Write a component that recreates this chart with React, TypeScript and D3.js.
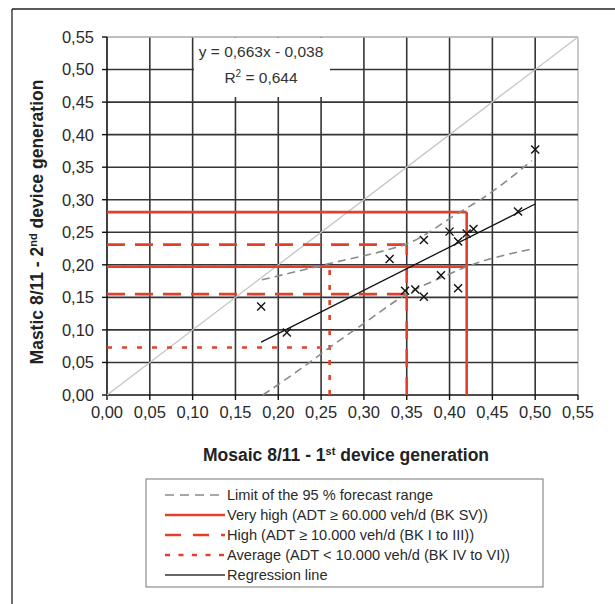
import React from "react";
import * as d3 from "d3";

// Axis ticks (both axes share the same range)
const tickValues = [0, 0.05, 0.1, 0.15, 0.2, 0.25, 0.3, 0.35, 0.4, 0.45, 0.5, 0.55];

// Measured pairs: Mosaic (1st generation) vs Mastic (2nd generation)
const mosaic = [0.18, 0.21, 0.33, 0.348, 0.36, 0.37, 0.37, 0.39, 0.4, 0.41, 0.41, 0.42, 0.428, 0.48, 0.5];
const mastic = [0.136, 0.096, 0.209, 0.16, 0.162, 0.151, 0.238, 0.184, 0.251, 0.164, 0.236, 0.248, 0.255, 0.282, 0.377];

// Regression y = 0,663x - 0,038 over the measured range
const regSlope = 0.663;
const regIntercept = -0.038;
const regRange = [0.18, 0.5];

// 95 % forecast range limits
const upperX = [0.181, 0.26, 0.33, 0.35, 0.412, 0.4355, 0.496];
const upperY = [0.177, 0.202, 0.224, 0.232, 0.281, 0.2995, 0.36];
const lowerX = [0.182, 0.226, 0.26, 0.3, 0.35, 0.4, 0.42, 0.495];
const lowerY = [0.0, 0.04, 0.073, 0.11, 0.155, 0.186, 0.197, 0.224];

// Traffic classes: Mosaic threshold and the matching Mastic band
const classNames = ["average", "high", "veryHigh"];
const classX = [0.26, 0.35, 0.42];
const classUpper = [0.197, 0.231, 0.281];
const classLower = [0.073, 0.155, 0.197];

const legendLabels = [
  "Limit of the 95 % forecast range",
  "Very high (ADT \u2265 60.000 veh/d (BK SV))",
  "High (ADT \u2265 10.000 veh/d (BK I to III))",
  "Average (ADT < 10.000 veh/d (BK IV to VI))",
  "Regression line",
];

const RED = "#e2402a";
const GRID = "#353535";
const FONT = "'Liberation Sans', Arial, Helvetica, sans-serif";

const classStyle: Record<string, { dash?: string; width: number }> = {
  veryHigh: { width: 2.6 },
  high: { dash: "18 10", width: 2.6 },
  average: { dash: "5 10", width: 2.6 },
};

const fmt = (v: number) => v.toFixed(2).replace(".", ",");

export default function App() {
  const x = d3.scaleLinear().domain([0, 0.55]).range([107, 578]);
  const y = d3.scaleLinear().domain([0, 0.55]).range([395, 37]);

  const curve = d3
    .line<[number, number]>()
    .x((d) => x(d[0]))
    .y((d) => y(d[1]))
    .curve(d3.curveMonotoneX);

  const upperPts = upperX.map((v, i) => [v, upperY[i]] as [number, number]);
  const lowerPts = lowerX.map((v, i) => [v, lowerY[i]] as [number, number]);
  const regPts = regRange.map((v) => [v, regSlope * v + regIntercept] as [number, number]);

  const legendTop = 495;
  const legendStep = 20;

  return (
    <svg
      width={615}
      height={604}
      style={{ position: "absolute", left: 0, top: 0, background: "#fff" }}
      fontFamily={FONT}
    >
      <rect x={0} y={0} width={615} height={604} fill="#fff" />
      {/* outer frame */}
      <line x1={12} y1={9} x2={615} y2={9} stroke="#222" strokeWidth={1.3} />
      <line x1={12} y1={9} x2={12} y2={604} stroke="#222" strokeWidth={1.3} />

      {/* grid */}
      {tickValues.slice(1).map((t) => (
        <line
          key={"gv" + t}
          x1={x(t)}
          x2={x(t)}
          y1={y(0)}
          y2={y(0.55)}
          stroke={t === 0.55 ? "#aaa" : GRID}
          strokeWidth={t === 0.55 ? 1.2 : 1.6}
        />
      ))}
      {tickValues.slice(1).map((t) => (
        <line
          key={"gh" + t}
          x1={x(0)}
          x2={x(0.55)}
          y1={y(t)}
          y2={y(t)}
          stroke={t === 0.55 ? "#aaa" : GRID}
          strokeWidth={t === 0.55 ? 1.2 : 1.6}
        />
      ))}

      {/* equation label background */}
      <rect x={194} y={38} width={136} height={59} fill="#fff" />
      <line x1={x(0)} x2={x(0.55)} y1={y(0.55)} y2={y(0.55)} stroke="#aaa" strokeWidth={1.2} />

      {/* axes */}
      <line x1={x(0)} x2={x(0)} y1={y(0)} y2={y(0.55)} stroke="#111" strokeWidth={1.6} />
      <line x1={x(0)} x2={x(0.55)} y1={y(0)} y2={y(0)} stroke="#111" strokeWidth={1.6} />
      {tickValues.map((t) => (
        <g key={"tk" + t}>
          <line x1={x(0) - 5} x2={x(0)} y1={y(t)} y2={y(t)} stroke="#111" strokeWidth={1.4} />
          <line x1={x(t)} x2={x(t)} y1={y(0)} y2={y(0) + 5} stroke="#111" strokeWidth={1.4} />
          <text x={94} y={y(t)} dy="0.36em" textAnchor="end" fontSize={16.5} fill="#2a2a2a">
            {fmt(t)}
          </text>
          <text x={x(t)} y={418} textAnchor="middle" fontSize={16.5} fill="#2a2a2a">
            {fmt(t)}
          </text>
        </g>
      ))}

      {/* 1:1 diagonal */}
      <line x1={x(0)} y1={y(0)} x2={x(0.55)} y2={y(0.55)} stroke="#c4c4c4" strokeWidth={1.3} />

      {/* class threshold lines */}
      {classNames.map((name, i) => {
        const s = classStyle[name];
        return (
          <g key={name} stroke={RED} strokeWidth={s.width} strokeDasharray={s.dash} fill="none">
            <line x1={x(0)} x2={x(classX[i])} y1={y(classUpper[i])} y2={y(classUpper[i])} />
            <line x1={x(0)} x2={x(classX[i])} y1={y(classLower[i])} y2={y(classLower[i])} />
            <line x1={x(classX[i])} x2={x(classX[i])} y1={y(0)} y2={y(classUpper[i])} />
          </g>
        );
      })}

      {/* forecast range limits */}
      <path d={curve(upperPts) ?? ""} fill="none" stroke="#8a8a8a" strokeWidth={1.6} strokeDasharray="8 5" />
      <path d={curve(lowerPts) ?? ""} fill="none" stroke="#8a8a8a" strokeWidth={1.6} strokeDasharray="8 5" />

      {/* regression line */}
      <path d={curve(regPts) ?? ""} fill="none" stroke="#111" strokeWidth={1.3} />

      {/* measurements */}
      {mosaic.map((mx, i) => {
        const cx = x(mx);
        const cy = y(mastic[i]);
        const r = 4;
        return (
          <path
            key={"pt" + i}
            d={`M${cx - r},${cy - r}L${cx + r},${cy + r}M${cx - r},${cy + r}L${cx + r},${cy - r}`}
            stroke="#111"
            strokeWidth={1.4}
          />
        );
      })}

      {/* equation */}
      <text x={261} y={57} textAnchor="middle" fontSize={15.5} fill="#333">
        y = 0,663x - 0,038
      </text>
      <text x={261} y={83} textAnchor="middle" fontSize={15.5} fill="#333">
        R<tspan dy={-6} fontSize={10}>2</tspan>
        <tspan dy={6}> = 0,644</tspan>
      </text>

      {/* axis titles */}
      <text x={346} y={461} textAnchor="middle" fontSize={17.5} fontWeight="bold" fill="#222">
        Mosaic 8/11 - 1<tspan dy={-6} fontSize={11}>st</tspan>
        <tspan dy={6}> device generation</tspan>
      </text>
      <text
        transform="translate(43,222) rotate(-90)"
        textAnchor="middle"
        fontSize={17.5}
        fontWeight="bold"
        fill="#222"
      >
        Mastic 8/11 - 2<tspan dy={-6} fontSize={11}>nd</tspan>
        <tspan dy={6}> device generation</tspan>
      </text>

      {/* legend */}
      <rect x={146} y={479} width={397} height={108} fill="#fff" stroke="#8c8c8c" strokeWidth={1.2} />
      {legendLabels.map((label, i) => {
        const ly = legendTop + i * legendStep;
        let sample;
        if (i === 0) {
          sample = <line x1={165} x2={225} y1={ly} y2={ly} stroke="#8a8a8a" strokeWidth={1.6} strokeDasharray="9 6" />;
        } else if (i === 1) {
          sample = <line x1={165} x2={225} y1={ly} y2={ly} stroke={RED} strokeWidth={2.6} />;
        } else if (i === 2) {
          sample = <line x1={165} x2={225} y1={ly} y2={ly} stroke={RED} strokeWidth={2.6} strokeDasharray="16 12" />;
        } else if (i === 3) {
          sample = <line x1={165} x2={225} y1={ly} y2={ly} stroke={RED} strokeWidth={2.6} strokeDasharray="5 8.5" />;
        } else {
          sample = <line x1={165} x2={225} y1={ly} y2={ly} stroke="#333" strokeWidth={1.3} />;
        }
        return (
          <g key={"lg" + i}>
            {sample}
            <text x={227} y={ly} dy="0.36em" fontSize={14.6} fill="#2a2a2a">
              {label}
            </text>
          </g>
        );
      })}
    </svg>
  );
}
